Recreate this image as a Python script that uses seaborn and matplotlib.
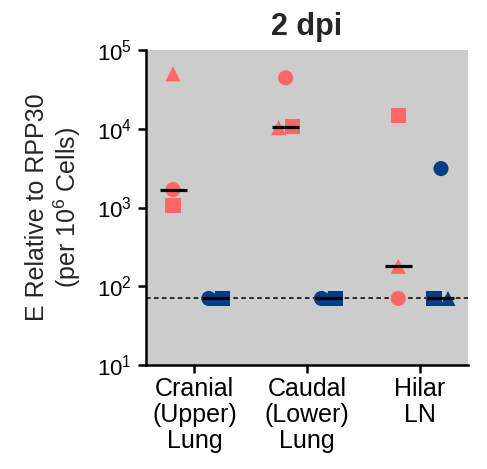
import numpy as np
import pandas as pd
import matplotlib
matplotlib.use("Agg")
import matplotlib.pyplot as plt
import seaborn as sns

# ---------------- data ----------------
tissues = ["Cranial\n(Upper)\nLung", "Caudal\n(Lower)\nLung", "Hilar\nLN"]
cohorts = ["Cohort 1", "Cohort 2"]
animals = ["Animal 1", "Animal 2", "Animal 3"]   # circle, square, triangle

# values per tissue, order of animals: [Animal 1, Animal 2, Animal 3]
cohort1_cranial = [1690, 1060, 49700]
cohort1_caudal = [44300, 10600, 10300]
cohort1_hilar = [70, 14600, 179]
cohort2_cranial = [70, 70, 70]
cohort2_caudal = [70, 70, 70]
cohort2_hilar = [3120, 70, 70]
lod = 70

title = "2 dpi"
ylabel = "E Relative to RPP30\n(per 10$^6$ Cells)"
yticks = [1e1, 1e2, 1e3, 1e4, 1e5]

# ---------------- styling ----------------
sns.set_theme(style="ticks")
plt.rcParams["font.family"] = ["Liberation Sans", "DejaVu Sans"]
plt.rcParams["mathtext.fontset"] = "custom"
plt.rcParams["mathtext.rm"] = "Liberation Sans"
plt.rcParams["mathtext.it"] = "Liberation Sans:italic"
plt.rcParams["mathtext.bf"] = "Liberation Sans:bold"
plt.rcParams["mathtext.default"] = "regular"

palette = {"Cohort 1": "#FF6666", "Cohort 2": "#023E84"}
markers = {"Animal 1": "o", "Animal 2": "s", "Animal 3": "^"}
dodge = 0.19
spread = 0.062
median_half = 0.12

# ---------------- build table ----------------
values = {
    ("Cohort 1", 0): cohort1_cranial, ("Cohort 1", 1): cohort1_caudal, ("Cohort 1", 2): cohort1_hilar,
    ("Cohort 2", 0): cohort2_cranial, ("Cohort 2", 1): cohort2_caudal, ("Cohort 2", 2): cohort2_hilar,
}
rows = []
for (coh, ti), vals in values.items():
    for an, v in zip(animals, vals):
        rows.append(dict(cohort=coh, tissue=ti, animal=an, value=v))
df = pd.DataFrame(rows)
df["base"] = df["tissue"] + np.where(df["cohort"] == "Cohort 1", -dodge, dodge)

# spread near-tied points horizontally (GraphPad-like)
rank = {"Animal 1": 0, "Animal 2": 1, "Animal 3": 2}
df["off"] = 0.0
for (coh, ti), g in df.groupby(["cohort", "tissue"]):
    lv = np.log10(g["value"])
    used = set()
    for i in g.index:
        if i in used:
            continue
        tied = [j for j in g.index if abs(lv[j] - lv[i]) < 0.08 and j not in used]
        used.update(tied)
        if len(tied) < 2:
            continue
        tied = sorted(tied, key=lambda j: (df.loc[j, "value"], rank[df.loc[j, "animal"]]))
        offs = [-spread, spread] if len(tied) == 2 else [-spread, spread, 0.0]
        for j, o in zip(tied, offs):
            df.loc[j, "off"] = o
df["x"] = df["base"] + df["off"]
draw_order = {"Animal 3": 0, "Animal 1": 1, "Animal 2": 2}
df = df.sort_values(by="animal", key=lambda s: s.map(draw_order))

# ---------------- plot ----------------
fig, ax = plt.subplots(figsize=(4.87, 4.69), dpi=100)
fig.subplots_adjust(left=146 / 487, right=468 / 487, top=1 - 50 / 469, bottom=1 - 365 / 469)
ax.set_facecolor("#CCCCCC")

ax.axhline(lod, color="black", lw=1.1, ls=(0, (3, 2.2)), zorder=1)

sns.scatterplot(data=df, x="x", y="value", hue="cohort", style="animal",
                palette=palette, markers=markers, s=118, linewidth=0,
                legend=False, ax=ax, zorder=3)

med = df.groupby(["cohort", "tissue"]).agg(value=("value", "median"), base=("base", "first")).reset_index()
ax.hlines(med["value"], med["base"] - median_half, med["base"] + median_half,
          color="black", lw=2.3, zorder=4)

ax.set_yscale("log")
ax.set_ylim(10, 1e5)
ax.set_yticks(yticks)
ax.yaxis.set_minor_locator(matplotlib.ticker.NullLocator())
ax.set_xlim(-0.43, 2.43)
ax.set_xticks(range(len(tissues)))
ax.set_xticklabels(tissues, fontsize=18, linespacing=1.08)
ax.tick_params(axis="y", labelsize=16, length=6, width=1.8, pad=4, colors="black")
ax.tick_params(axis="x", length=6, width=1.8, pad=3, colors="black")
ax.set_xlabel("")
ax.set_ylabel(ylabel, fontsize=18, linespacing=1.1, labelpad=10)
ax.set_title(title, fontsize=22, fontweight="bold", pad=11)

sns.despine(ax=ax)
for sp in ["left", "bottom"]:
    ax.spines[sp].set_linewidth(1.8)
    ax.spines[sp].set_color("black")

fig.savefig("out.png", dpi=100)
